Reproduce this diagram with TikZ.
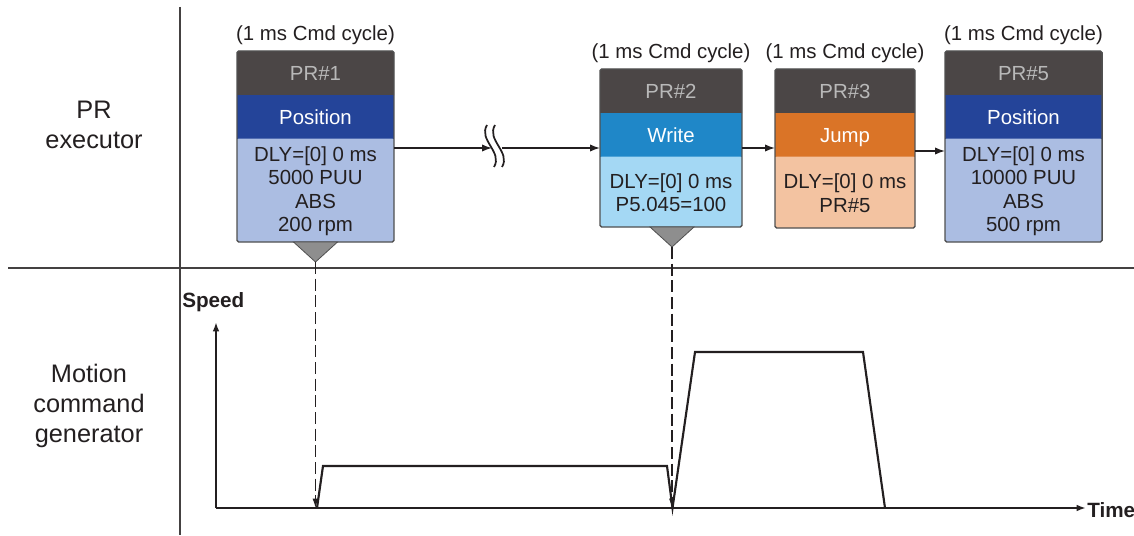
\documentclass[tikz,border=0pt]{standalone}
\usepackage{fontspec}
\setmainfont{Liberation Sans}
\usetikzlibrary{arrows.meta,calc,fit}
\definecolor{hdrfill}{HTML}{4B4646}
\definecolor{hdrtxt}{HTML}{B9B9B9}
\definecolor{posband}{HTML}{244499}
\definecolor{posbody}{HTML}{ABBDE2}
\definecolor{wrband}{HTML}{1F87C8}
\definecolor{wrbody}{HTML}{A4D8F4}
\definecolor{jmpband}{HTML}{DA7427}
\definecolor{jmpbody}{HTML}{F3C3A1}
\definecolor{framec}{HTML}{505050}
\definecolor{trifill}{HTML}{8E8E8E}
\definecolor{inkc}{HTML}{231F20}
\tikzset{
  basefont/.style={font=\fontsize{15.3pt}{17.6pt}\selectfont},
  boxframe/.style={draw=framec, line width=1.1pt, inner sep=0pt, outer sep=0pt, rounded corners=1.2pt},
  hdrtext/.style={basefont, text=hdrtxt, inner sep=0pt, text height=12.5pt, text depth=1.5pt},
  bandtext/.style={basefont, text=white, inner sep=0pt, text height=12.5pt, text depth=1.5pt},
  bodytext/.style={basefont, text=inkc, align=center, inner sep=0pt},
  cyclelabel/.style={basefont, text=inkc, inner sep=0pt},
  sidelabel/.style={font=\fontsize{19pt}{22.5pt}\selectfont, text=inkc, align=center, inner sep=0pt},
  axislabel/.style={font=\bfseries\fontsize{15.5pt}{17pt}\selectfont, text=inkc, inner sep=0pt},
  conn/.style={draw=inkc, line width=1.1pt, -{Latex[length=7.5pt,width=5.5pt]}},
  axisline/.style={draw=inkc, line width=1.4pt, -{Latex[length=7pt,width=5pt]}},
  dasharr/.style={draw=inkc, line width=0.9pt, dash pattern=on 9pt off 3.5pt, -{Latex[length=7pt,width=4.5pt]}},
  divider/.style={draw=inkc!85, line width=0.9pt},
  profile/.style={draw=inkc, line width=1.6pt, line join=miter},
  trimark/.style={fill=trifill, draw=framec, line width=0.6pt},
  brk/.style={draw=inkc, line width=1.3pt}
}
% #1 name, #2 left, #3 top, #4 right, #5 bottom, #6 title, #7 colour prefix, #8 band text, #9 body text
\newcommand\prbox[9]{%
  \fill[hdrfill, rounded corners=1.2pt] (#2,#3) rectangle (#4,#3+46);
  \fill[#7band] (#2,#3+44) rectangle (#4,#3+87.5);
  \fill[#7body, rounded corners=1.2pt] (#2,#3+87.5) rectangle (#4,#5);
  \fill[#7body] (#2,#3+87.5) rectangle (#4,#3+95);
  \node[boxframe, fit={(#2,#3) (#4,#5)}] (#1) {};
  \node[hdrtext] (#1-t) at ({(#2+#4)/2},{#3+22}) {#6};
  \node[bandtext] (#1-m) at ({(#2+#4)/2},{#3+65.75}) {#8};
  \node[bodytext] (#1-b) at ({(#2+#4)/2},{(#3+87.5+#5)/2+1}) {#9};
  \node[cyclelabel] (#1-c) at ({(#2+#4)/2},{#3-15.5}) {(1 ms Cmd cycle)};
}
\begin{document}
\begin{tikzpicture}[x=0.75pt,y=-0.75pt]
\useasboundingbox (0,0) rectangle (1134,535);
% dividers
\draw[divider] (180,7) -- (180,535);
\draw[divider] (8,268) -- (1134,268);
% side labels
\node[sidelabel] (lblpr) at (94,125) {PR\\executor};
\node[sidelabel] (lblmc) at (89,406) {Motion\\command\\generator};
% PR boxes
\prbox{pr1}{237}{51}{394}{242}{PR\#1}{pos}{Position}{DLY=[0] 0 ms\\5000 PUU\\ABS\\200 rpm}
\prbox{pr2}{600}{69}{742}{227}{PR\#2}{wr}{Write}{DLY=[0] 0 ms\\P5.045=100}
\prbox{pr3}{775}{69}{915}{228}{PR\#3}{jmp}{Jump}{DLY=[0] 0 ms\\PR\#5}
\prbox{pr5}{945}{51}{1102}{242}{PR\#5}{pos}{Position}{DLY=[0] 0 ms\\10000 PUU\\ABS\\500 rpm}
% triangles under PR#1 and PR#2
\coordinate (pr1tip) at ($(pr1.south)+(0,20)$);
\coordinate (pr2tip) at ($(pr2.south)+(1,20)$);
\filldraw[trimark] ($(pr1.south)+(-22,0)$) -- ($(pr1.south)+(22,0)$) -- (pr1tip) -- cycle;
\filldraw[trimark] ($(pr2.south)+(-21,0)$) -- ($(pr2.south)+(23,0)$) -- (pr2tip) -- cycle;
% connectors with break symbol
\coordinate (brkL) at (492,148);
\coordinate (brkR) at (502,148);
\coordinate (c23) at (760,148);
\coordinate (c35) at (930,151);
\draw[conn] (pr1.east |- brkL) -- (brkL);
\draw[conn] (brkR) -- (pr2.west |- brkR);
\draw[brk] (487,125) .. controls (478,140) and (503,152) .. (494,167);
\draw[brk] (495,125) .. controls (486,140) and (511,152) .. (502,167);
\draw[conn] (pr2.east |- c23) -- (pr3.west |- c23);
\draw[conn] (pr3.east |- c35) -- (pr5.west |- c35);
% axes
\coordinate (origin) at (216,508);
\coordinate (ytop) at (216,322);
\coordinate (xend) at (1086,508);
\draw[axisline] (origin) -- (ytop);
\draw[axisline] (origin) -- (xend);
\node[axislabel, anchor=west] (speed) at (182,302) {Speed};
\node[axislabel, anchor=west] (time) at (1087,510) {Time};
% dashed trigger lines
\draw[dasharr] (pr1tip) -- (pr1tip |- origin);
\draw[dasharr] (pr2tip) -- (pr2tip |- origin);
% speed profile
\draw[profile] (317,508) -- (323,466) -- (667,466) -- (672.5,508) -- (695,352) -- (863,352) -- (885,508);
\end{tikzpicture}
\end{document}
